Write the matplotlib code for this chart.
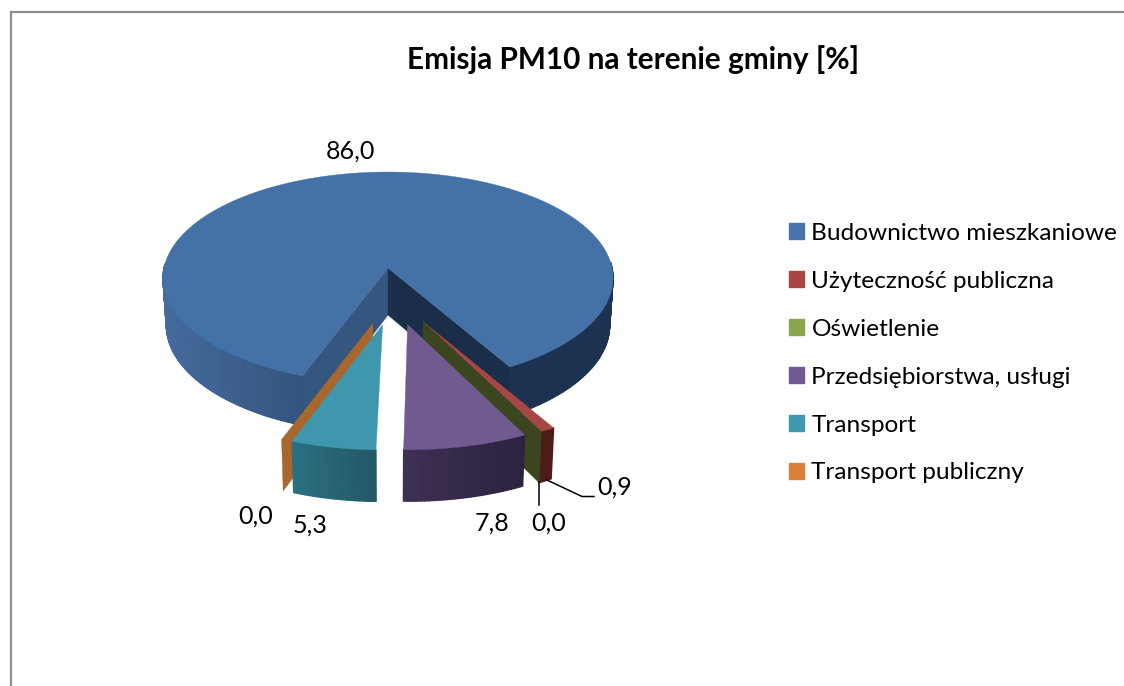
import numpy as np
import matplotlib
matplotlib.use("Agg")
import matplotlib.pyplot as plt
from matplotlib.patches import Polygon, Patch
from matplotlib.collections import PolyCollection
from matplotlib.colors import to_rgb

title = "Emisja PM10 na terenie gminy [%]"
categories = ["Budownictwo mieszkaniowe", "Użyteczność publiczna", "Oświetlenie",
              "Przedsiębiorstwa, usługi", "Transport", "Transport publiczny"]
values = [86.0, 0.9, 0.0, 7.8, 5.3, 0.0]
legend_colors = ["#4674aa", "#a94543", "#8aa64f", "#6f5a94", "#3f97b0", "#d9803a"]
top_colors = ["#4471a6", "#a54745", "#3b4520", "#705a8f", "#3f97ae", "#a8672d"]
side_left = ["#456a9c", "#4d1b18", "#3b4520", "#3d3053", "#2b7182", "#a8672d"]
side_right = ["#1c3250", "#4d1b18", "#3b4520", "#2d2240", "#235765", "#a8672d"]
label_xy = [(350, 151), (615, 487), (549, 523), (492.5, 523), (309.5, 525), (256, 516)]

FONT = "Lato"
CX, CY, X, Y, K = 388, 268, 224, 105, 0.094
EXPLODE = 0.26
START = 200.4
SLICE_R = 0.975
SLICE_DX = 1.0
SLICE_XS = 1.02
EXPLODE_FROM = [0, 1, 1, 3, 4, 5]


def project(ux, d):
    w = 1 - K * d
    return CX + X * ux / w, CY + Y * d / w


def lower(p):
    x, y = p
    return CX + (x - CX) * 0.985, y + 47 + 0.025 * (y - CY)


def unit(theta):
    t = np.radians(theta)
    return np.sin(t), -np.cos(t)


def lerp(c1, c2, f):
    a, b = np.array(to_rgb(c1)), np.array(to_rgb(c2))
    return tuple(a + (b - a) * f)


fig = plt.figure(figsize=(11.24, 6.86), dpi=100)
ax = fig.add_axes([0, 0, 1, 1])
ax.set_xlim(0, 1124)
ax.set_ylim(686, 0)
ax.axis("off")

ax.plot([11, 11, 1124], [686, 12, 12], color="#8f8f8f", lw=1.6, solid_joinstyle="miter")

spans = []
a = START
for v in values:
    b = a + v * 3.6
    spans.append((a, b))
    a = b
bx, bd = unit(sum(spans[0]) / 2)


def slice_geometry(i):
    t0, t1 = spans[i]
    s0, s1 = spans[EXPLODE_FROM[i]]
    mx, md = unit((s0 + s1) / 2)
    ox, od = EXPLODE * (mx - bx), EXPLODE * (md - bd)
    blue = i == 0
    r = 1.0 if blue else SLICE_R
    dx = 0.0 if blue else SLICE_DX
    xs = 1.0 if blue else SLICE_XS
    ax_, ay_ = project(ox, od)
    ts = np.linspace(t0, t1, max(2, int(t1 - t0) + 2))
    rim = []
    for t in ts:
        x, y = project(ox + r * unit(t)[0], od + r * unit(t)[1])
        rim.append((ax_ + (x - ax_) * xs + dx, y))
    return (ax_ + dx, ay_), rim


def extrude(p, q):
    return [p, q, lower(q), lower(p)]


def draw_slice(i, z):
    apex, rim = slice_geometry(i)
    if values[i] == 0:
        ax.add_patch(Polygon(extrude(apex, rim[0]), closed=True, fc=top_colors[i], ec=top_colors[i], lw=0.3, zorder=z))
        return
    if i == 0:
        ax.add_patch(Polygon(extrude(apex, rim[0]), closed=True, fc="#34567f", ec="#34567f", lw=0.3, zorder=z))
        ax.add_patch(Polygon(extrude(apex, rim[-1]), closed=True, fc="#1a2e4a", ec="#1a2e4a", lw=0.3, zorder=z))
    quads, cols = [], []
    xs = [p[0] for p in rim]
    xmin, xmax = min(xs), max(xs)
    for p, q in zip(rim[:-1], rim[1:]):
        if min(p[1], q[1]) < 262:
            continue  # back of the wall is hidden behind the top surface
        quads.append(extrude(p, q))
        mid = (p[0] + q[0]) / 2
        if i == 0:
            if mid < CX:
                cols.append(lerp(side_left[0], "#33547e", np.clip((mid - 163) / 140, 0, 1)))
            else:
                cols.append(to_rgb(side_right[0]))
        else:
            cols.append(lerp(side_left[i], side_right[i], (mid - xmin) / max(xmax - xmin, 1)))
    ax.add_collection(PolyCollection(quads, facecolors=cols, edgecolors=cols, linewidths=1.0, zorder=z))
    ax.add_patch(Polygon([apex] + rim, closed=True, fc=top_colors[i], ec=top_colors[i], lw=0.3, zorder=z + 0.5))


for z, i in enumerate([0, 1, 2, 3, 5, 4]):
    draw_slice(i, 2 + z)

ax.plot([538.5, 538.5], [482, 505], color="black", lw=1.1, zorder=10)
ax.plot([547, 582, 594], [480, 496.5, 496.5], color="black", lw=1.1, zorder=10)

for v, (x, y) in zip(values, label_xy):
    ax.text(x, y, f"{v:.1f}".replace(".", ","), ha="center", va="center",
            fontsize=18, family=FONT, color="black", zorder=11)

ax.text(633, 60, title, ha="center", va="center", fontsize=21.4, fontweight="bold", family=FONT, color="black")

handles = [Patch(fc=c, ec=c) for c in legend_colors]
leg = ax.legend(handles, categories, loc="upper left", bbox_to_anchor=(789 / 1124, 1 - 223 / 686),
                bbox_transform=fig.transFigure, frameon=False, borderpad=0, borderaxespad=0,
                prop={"family": FONT, "size": 17.6}, handlelength=0.62, handleheight=0.62,
                handletextpad=0.3, labelspacing=1.10, labelcolor="black")

fig.savefig("out.png", dpi=100)
